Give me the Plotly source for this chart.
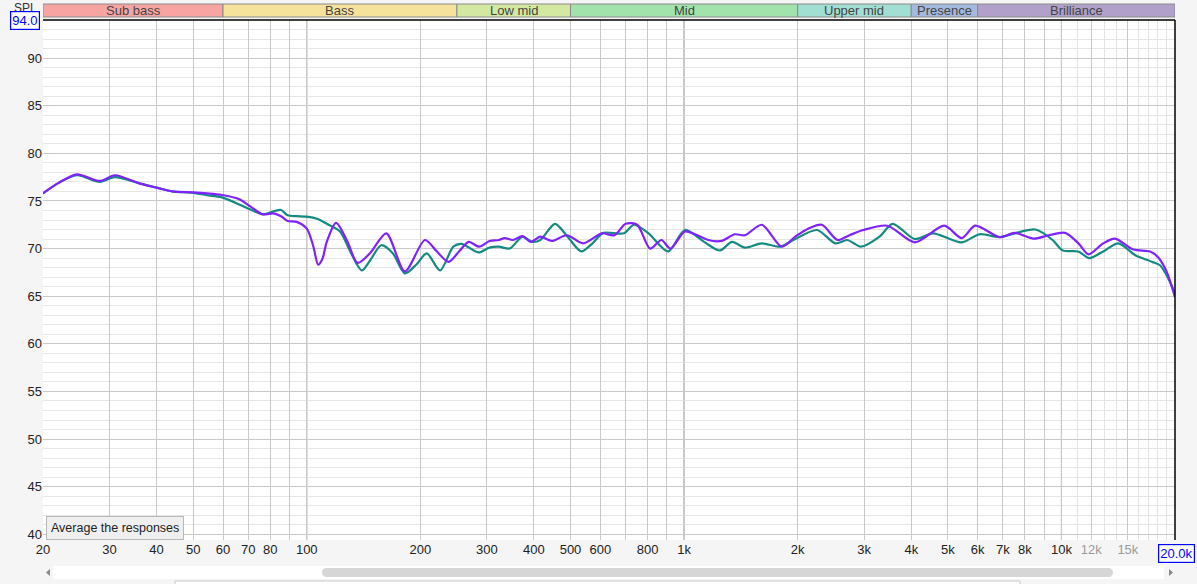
import math
import plotly.graph_objects as go

# purple response
freq_a = [20, 22, 24.6, 28.3, 31, 36, 40, 44, 50, 54.4, 59.3, 66.5, 71, 76.4, 81.6, 85.5, 89, 94,
          100, 104, 107.2, 110, 113, 119.6, 128, 136.3, 147, 162.5, 182, 205.7, 221.6, 237.5, 254.6,
          268.6, 286.4, 305, 323, 334.6, 352, 373, 392, 416, 446, 489, 540, 605, 654, 700, 751,
          813, 871, 920, 1005, 1068, 1158, 1256, 1363, 1450, 1607, 1816, 1971, 2138, 2318, 2551,
          2744, 2983, 3458, 4088, 4891, 5443, 5909, 6860, 7520, 8446, 9263, 10230, 11095, 11790,
          12915, 13868, 15518, 17180, 18036, 18950, 20000]
spl_a = [75.8, 76.9, 77.8, 77.1, 77.7, 76.85, 76.4, 76.0, 75.9, 75.8, 75.65, 75.15, 74.4, 73.6, 73.7,
         73.4, 72.9, 72.8, 72.1, 70.3, 68.3, 68.9, 70.7, 72.7, 70.8, 68.5, 69.5, 71.6, 67.6, 70.9, 69.66,
         68.6, 69.8, 70.7, 70.2, 70.8, 70.9, 71.1, 70.9, 71.3, 70.7, 71.25, 70.8, 71.4, 70.55, 71.6,
         71.4, 72.6, 72.5, 70.0, 70.9, 70.0, 71.8, 71.5, 70.9, 70.8, 71.5, 71.4, 72.5, 70.2, 71.25,
         72.1, 72.5, 70.9, 71.4, 71.95, 72.4, 70.65, 72.4, 71.1, 72.4, 71.2, 71.65, 71.05, 71.4,
         71.65, 70.55, 69.4, 70.55, 71.05, 69.9, 69.7, 69.1, 67.7, 64.9]

# teal response
freq_b = [20, 22, 24.6, 28.3, 31, 36, 40, 44, 50, 54.4, 59.3, 66.5, 71, 76.4, 81.6, 85.5, 89, 94,
          100, 107, 113, 122.5, 130, 140, 148, 157.6, 169, 182, 195, 208, 225.6, 244.6, 257, 285,
          305, 323, 345, 373, 396, 416, 455, 490, 534, 570, 611, 692, 737, 805, 908, 1005, 1130,
          1244, 1340, 1450, 1607, 1797, 1971, 2249, 2519, 2706, 2944, 3296, 3571, 4088, 4565, 5443,
          6059, 6860, 7520, 8530, 9476, 10082, 11080, 11850, 12915, 14155, 15700, 17400, 18250,
          19000, 20000]
spl_b = [75.8, 76.9, 77.7, 77.0, 77.5, 76.85, 76.4, 76.0, 75.85, 75.6, 75.4, 74.6, 74.1, 73.6, 73.9,
         74.05, 73.5, 73.4, 73.35, 73.1, 72.6, 71.8, 69.8, 67.7, 68.9, 70.35, 69.5, 67.4, 68.3, 69.5,
         67.7, 70.2, 70.5, 69.6, 70.1, 70.2, 70.0, 71.25, 70.7, 70.9, 72.6, 71.3, 69.7, 70.5, 71.65,
         71.6, 72.5, 71.6, 69.7, 71.95, 70.7, 69.8, 70.7, 70.1, 70.55, 70.2, 71.0, 71.95, 70.55, 70.9,
         70.2, 71.25, 72.6, 71.0, 71.6, 70.65, 71.5, 71.2, 71.6, 72.0, 70.9, 69.8, 69.7, 69.0, 69.7,
         70.55, 69.3, 68.6, 68.25, 67.2, 65.3]

band_names = ["Sub bass", "Bass", "Low mid", "Mid", "Upper mid", "Presence", "Brilliance"]
band_edges = [20, 60, 250, 500, 2000, 4000, 6000, 20000]
band_colors = ["#f7a4a3", "#f5e39c", "#d3e9a1", "#a1e3ab", "#a1ded4", "#a5b9de", "#b1a0ca"]

grid_freqs = [20, 30, 40, 50, 60, 70, 80, 90, 100, 200, 300, 400, 500, 600, 700, 800, 900,
              1000, 2000, 3000, 4000, 5000, 6000, 7000, 8000, 9000, 10000, 12000, 15000]
grid_labels = ["20", "30", "40", "50", "60", "70", "80", "", "100", "200", "300", "400", "500",
               "600", "", "800", "", "1k", "2k", "3k", "4k", "5k", "6k", "7k", "8k", "", "10k",
               "<span style='color:#9a9a9a'>12k</span>", "<span style='color:#9a9a9a'>15k</span>"]
fine_freqs = [11000, 13000, 14000, 16000, 17000, 18000, 19000]
decade_freqs = [100, 1000, 10000]
y_ticks = [40, 45, 50, 55, 60, 65, 70, 75, 80, 85, 90]

W, H = 1197, 584
L, R, T, B = 43, 1175, 20, 540


def px(x):
    return (x - L) / (R - L)


def py(y):
    return (B - y) / (B - T)


fig = go.Figure()
fig.add_trace(go.Scatter(x=freq_b, y=spl_b, mode="lines", line=dict(color="#148a80", width=2.2,
                                                                   shape="spline", smoothing=0.8),
                         hoverinfo="x+y", name="teal"))
fig.add_trace(go.Scatter(x=freq_a, y=spl_a, mode="lines", line=dict(color="#7f22fb", width=2.2,
                                                                   shape="spline", smoothing=0.8),
                         hoverinfo="x+y", name="purple"))

shapes = []
annotations = []

# frequency band bar on top
for i, name in enumerate(band_names):
    f0, f1 = band_edges[i], band_edges[i + 1]
    shapes.append(dict(type="rect", xref="x", yref="paper", x0=f0, x1=f1, y0=py(17), y1=py(4),
                       fillcolor=band_colors[i], line=dict(color="#8a8a8a", width=1)))
    annotations.append(dict(x=(math.log10(f0) + math.log10(f1)) / 2, xref="x", y=py(10.5), yref="paper",
                            xanchor="center", yanchor="middle",
                            text=name, showarrow=False, font=dict(size=13, color="#444444")))

# darker decade lines
for f in decade_freqs:
    shapes.append(dict(type="line", xref="x", yref="paper", x0=f, x1=f, y0=0, y1=1,
                       line=dict(color="#7a7a7a", width=1), layer="between"))

# black frame on top and right
shapes.append(dict(type="line", xref="paper", yref="paper", x0=0, x1=1, y0=1, y1=1,
                   line=dict(color="#000000", width=1.5)))
shapes.append(dict(type="line", xref="paper", yref="paper", x0=1, x1=1, y0=0, y1=1,
                   line=dict(color="#000000", width=1.5)))

# scroll bar below the axis
shapes.append(dict(type="rect", xref="paper", yref="paper", x0=px(53), x1=px(1164), y0=py(579), y1=py(566),
                   fillcolor="#ffffff", line=dict(width=0)))
shapes.append(dict(type="path", xref="paper", yref="paper", fillcolor="#d6d6d6", line=dict(width=0),
                   path="M %f %f L %f %f L %f %f L %f %f Z" % (
                       px(327), py(568), px(1108), py(568), px(1108), py(577), px(327), py(577))))
shapes.append(dict(type="circle", xref="paper", yref="paper", x0=px(322), x1=px(331), y0=py(577), y1=py(568),
                   fillcolor="#d6d6d6", line=dict(width=0)))
shapes.append(dict(type="circle", xref="paper", yref="paper", x0=px(1104), x1=px(1113), y0=py(577), y1=py(568),
                   fillcolor="#d6d6d6", line=dict(width=0)))
shapes.append(dict(type="path", xref="paper", yref="paper", fillcolor="#888888", line=dict(width=0),
                   path="M %f %f L %f %f L %f %f Z" % (px(46), py(572.5), px(50), py(569), px(50), py(576))))
shapes.append(dict(type="path", xref="paper", yref="paper", fillcolor="#888888", line=dict(width=0),
                   path="M %f %f L %f %f L %f %f Z" % (px(1173), py(572.5), px(1169), py(569), px(1169), py(576))))
shapes.append(dict(type="rect", xref="paper", yref="paper", x0=px(175), x1=px(1020), y0=py(595), y1=py(581),
                   fillcolor="#ffffff", line=dict(color="#c8c8c8", width=1)))

# labels round the edges
annotations.append(dict(x=px(25), y=py(8), xref="paper", yref="paper", text="SPL", showarrow=False,
                        xanchor="center", yanchor="middle", font=dict(size=12, color="#333333")))
annotations.append(dict(x=px(25), y=py(20.5), xref="paper", yref="paper", text="94.0", showarrow=False,
                        xanchor="center", yanchor="middle",
                        font=dict(size=13, color="#0000ff"), bordercolor="#0000ff", borderwidth=1.2,
                        borderpad=1, bgcolor="#ffffff"))
annotations.append(dict(x=px(1176), y=py(553), xref="paper", yref="paper", text="20.0k", showarrow=False,
                        xanchor="center", yanchor="middle",
                        font=dict(size=13, color="#0000ff"), bordercolor="#0000ff", borderwidth=1.2,
                        borderpad=1, bgcolor="#ffffff"))
annotations.append(dict(x=px(115), y=py(528), xref="paper", yref="paper", text="Average the responses",
                        xanchor="center", yanchor="middle",
                        showarrow=False, font=dict(size=12.5, color="#222222"), bgcolor="#efefef",
                        bordercolor="#b8b8b8", borderwidth=1, borderpad=4))

fig.update_layout(
    width=W, height=H,
    margin=dict(l=L, r=W - R, t=T, b=H - B, pad=0),
    paper_bgcolor="#f5f5f5",
    plot_bgcolor="#ffffff",
    showlegend=False,
    font=dict(family="Liberation Sans, Arial, sans-serif", size=13, color="#222222"),
    shapes=shapes,
    annotations=annotations,
    xaxis=dict(type="log", range=[math.log10(20), math.log10(20000)], tickmode="array",
               tickvals=grid_freqs, ticktext=grid_labels, gridcolor="#c9c9c9", gridwidth=1,
               showline=False, zeroline=False, ticks="", tickfont=dict(size=13, color="#222222"),
               minor=dict(tickmode="array", tickvals=fine_freqs, showgrid=True, gridcolor="#e4e4e4",
                          ticks=""),
               fixedrange=True),
    yaxis=dict(range=[39.4, 94], tickmode="array", tickvals=y_ticks, gridcolor="#c9c9c9",
               showline=False, zeroline=False, ticks="", tickfont=dict(size=13, color="#222222"),
               minor=dict(dtick=1, showgrid=True, gridcolor="#e6e6e6", ticks=""),
               fixedrange=True),
)

fig.write_html("out.html", config=dict(displayModeBar=False),
               post_script="document.body.style.margin='0';document.body.style.overflow='hidden';")
